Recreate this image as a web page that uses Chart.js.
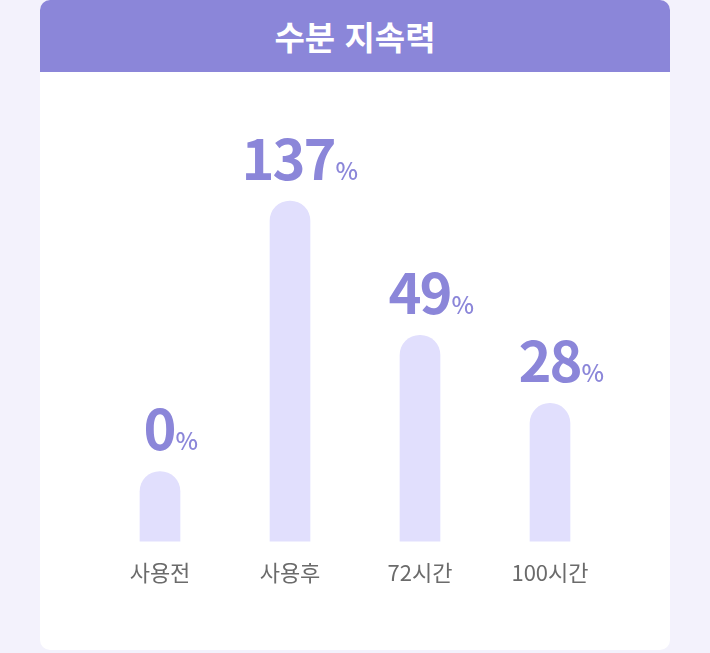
<!DOCTYPE html>
<html lang="ko">
<head>
<meta charset="utf-8">
<script src="https://cdn.jsdelivr.net/npm/chart.js@4"></script>
<style>
  html, body { margin: 0; padding: 0; }
  body { width: 710px; height: 653px; background: #f3f2fc; position: relative; overflow: hidden;
         font-family: "Noto Sans CJK KR", "Noto Sans", sans-serif; }
  .card { position: absolute; left: 40px; top: 0; width: 630px; height: 650px; background: #ffffff;
          border-radius: 10px; overflow: hidden; }
  .head { height: 72px; background: #8b86d9; color: #fff; font-weight: 700; font-size: 33px;
          text-align: center; line-height: 72px; letter-spacing: 0px; }
  .wrap { position: absolute; left: 0; top: 72px; width: 630px; height: 578px; }
</style>
</head>
<body>
<div class="card">
  <div class="head">수분 지속력</div>
  <div class="wrap"><canvas id="c"></canvas></div>
</div>
<script>
const categories = ['사용전', '사용후', '72시간', '100시간'];
const percentValues = [0, 137, 49, 28];          // printed values (%)
const barLengths = [17.5, 85, 51.5, 34.5];       // visual bar lengths (0-100)
const axisMax = 100;

const valueLabels = {
  id: 'valueLabels',
  afterDatasetsDraw(chart) {
    const ctx = chart.ctx;
    const meta = chart.getDatasetMeta(0);
    meta.data.forEach((el, i) => {
      const num = String(percentValues[i]);
      ctx.save();
      ctx.fillStyle = '#8b86d9';
      ctx.textBaseline = 'alphabetic';
      ctx.font = '700 56px "Noto Sans CJK KR"';
      ctx.letterSpacing = '-2px';
      ctx.textAlign = 'left';
      const m = ctx.measureText(num);
      const inkL = m.actualBoundingBoxLeft, inkR = m.actualBoundingBoxRight;
      const inkW = inkL + inkR;
      const x0 = el.x - inkW / 2 + inkL;
      const base = el.y - 21;
      ctx.fillText(num, x0, base);
      const rightEdge = x0 + inkR;
      ctx.letterSpacing = '0px';
      ctx.font = '500 24px "Noto Sans CJK KR"';
      const pm = ctx.measureText('%');
      ctx.fillText('%', rightEdge + 1 + pm.actualBoundingBoxLeft, base);
      ctx.restore();
    });
  }
};

new Chart(document.getElementById('c'), {
  type: 'bar',
  data: {
    labels: categories,
    datasets: [{
      data: barLengths,
      backgroundColor: '#e1dffd',
      barThickness: 40,
      borderRadius: { topLeft: 20, topRight: 20, bottomLeft: 0, bottomRight: 0 },
      borderSkipped: 'bottom'
    }]
  },
  options: {
    responsive: true,
    maintainAspectRatio: false,
    animation: false,
    layout: { padding: { left: 55, right: 55, top: 69, bottom: 46 } },
    plugins: { legend: { display: false }, tooltip: { enabled: false } },
    scales: {
      x: {
        grid: { display: false, drawTicks: false },
        border: { display: false },
        ticks: { color: '#6b6b6b', padding: 18, font: { family: '"Noto Sans CJK KR"', size: 22 } }
      },
      y: { display: false, min: 0, max: axisMax }
    }
  },
  plugins: [valueLabels]
});
</script>
</body>
</html>
